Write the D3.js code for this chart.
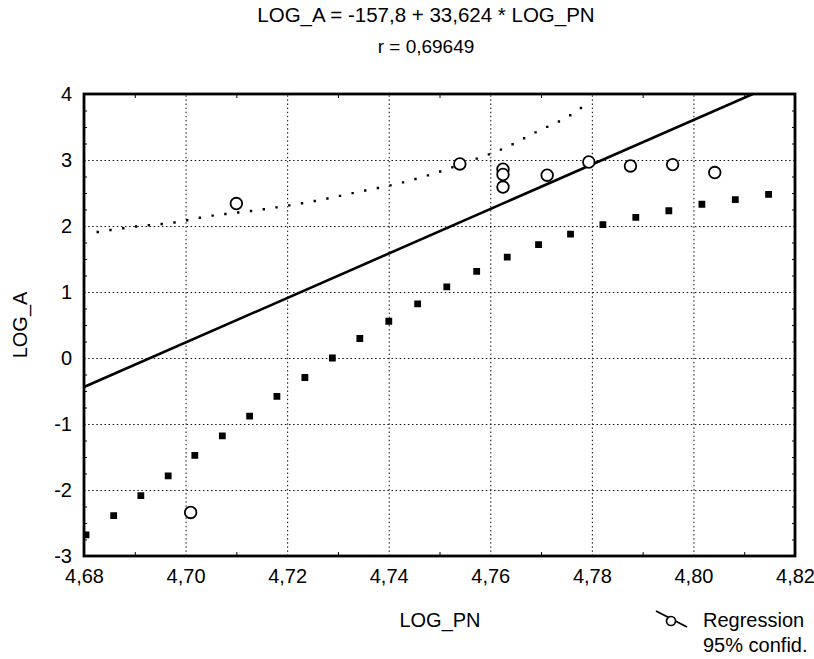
<!DOCTYPE html>
<html>
<head>
<meta charset="utf-8">
<script src="https://cdn.jsdelivr.net/npm/d3@7"></script>
<style>
body { margin: 0; background: #fff; }
text { font-family: "Liberation Sans", Arial, sans-serif; fill: #000; }
</style>
</head>
<body>
<div id="chart"></div>
<script>
// chart data

var xTicks = [4.68, 4.70, 4.72, 4.74, 4.76, 4.78, 4.80, 4.82];
var yTicks = [-3, -2, -1, 0, 1, 2, 3, 4];

// observations
var pointX = [4.701, 4.710, 4.754, 4.7625, 4.7625, 4.7625, 4.7712, 4.7794, 4.7876, 4.7959, 4.8042];
var pointY = [-2.34, 2.34, 2.94, 2.86, 2.78, 2.59, 2.77, 2.97, 2.91, 2.93, 2.81];

// fitted line (LOG_A = -157,8 + 33,624 * LOG_PN), ends
var regX = [4.68, 4.8117];
var regY = [-0.44, 4.0];

// upper 95% band
var upperX = [4.6827, 4.6901, 4.6975, 4.7047, 4.7121, 4.7194, 4.7269, 4.7342, 4.7417, 4.7487, 4.7558, 4.7625, 4.7692, 4.7758, 4.7779];
var upperY = [1.91, 1.99, 2.05, 2.15, 2.22, 2.30, 2.40, 2.52, 2.64, 2.79, 2.98, 3.17, 3.43, 3.68, 3.79];

// lower 95% band
var lowerX = [4.6804, 4.6860, 4.6913, 4.6967, 4.7019, 4.7074, 4.7128, 4.7180, 4.7236, 4.7290, 4.7344, 4.7402, 4.7459, 4.7515, 4.7575, 4.7634, 4.7696, 4.7759, 4.7822, 4.7887, 4.7951, 4.8017, 4.8083, 4.8148];
var lowerY = [-2.68, -2.38, -2.08, -1.78, -1.47, -1.17, -0.87, -0.58, -0.29, 0.005, 0.30, 0.565, 0.83, 1.08, 1.32, 1.53, 1.72, 1.88, 2.02, 2.13, 2.23, 2.33, 2.40, 2.48];

var titleLines = ["LOG_A = -157,8 + 33,624 * LOG_PN", "r = 0,69649"];
var legendLines = ["Regression", "95% confid."];

// set up SVG
var svgWidth = 814;
var svgHeight = 659;
var margin = { top: 94, right: 19, bottom: 103, left: 84 };
var width = svgWidth - margin.left - margin.right;
var height = svgHeight - margin.top - margin.bottom;

var fmt = function (d) { return d3.format(".2f")(d).replace(".", ","); };

var svg = d3.select("#chart")
    .append("svg")
    .attr("width", svgWidth)
    .attr("height", svgHeight);

var chartGroup = svg.append("g")
    .attr("transform", `translate(${margin.left}, ${margin.top})`);

var xScale = d3.scaleLinear().domain([4.68, 4.82]).range([0, width]);
var yScale = d3.scaleLinear().domain([-3, 4]).range([height, 0]);

// dotted grid
chartGroup.append("g")
    .attr("class", "grid")
    .attr("transform", `translate(0, ${height})`)
    .call(d3.axisBottom(xScale).tickValues(xTicks).tickSize(-height).tickFormat(""));
chartGroup.append("g")
    .attr("class", "grid")
    .call(d3.axisLeft(yScale).tickValues(yTicks).tickSize(-width).tickFormat(""));
chartGroup.selectAll(".grid .domain").remove();
chartGroup.selectAll(".grid line")
    .attr("stroke", "#111")
    .attr("stroke-width", 1)
    .attr("stroke-dasharray", "1.5,2.6");

// small inner ticks
var xMinor = d3.range(4.69, 4.82, 0.02);
var yMinor = d3.range(-2.75, 4, 0.25).filter(function (v) { return Math.abs(v - Math.round(v)) > 0.01; });
chartGroup.append("g").call(d3.axisBottom(xScale).tickValues(xMinor).tickSize(-4).tickFormat(""))
    .attr("transform", `translate(0, ${height})`);
chartGroup.append("g").call(d3.axisTop(xScale).tickValues(xMinor).tickSize(-4).tickFormat(""));
chartGroup.append("g").call(d3.axisLeft(yScale).tickValues(yMinor).tickSize(-3).tickFormat(""));
chartGroup.append("g").call(d3.axisRight(yScale).tickValues(yMinor).tickSize(-3).tickFormat(""))
    .attr("transform", `translate(${width}, 0)`);

// tick labels
var xAxis = chartGroup.append("g")
    .attr("transform", `translate(0, ${height})`)
    .call(d3.axisBottom(xScale).tickValues(xTicks).tickSize(0).tickPadding(13).tickFormat(fmt));
var yAxis = chartGroup.append("g")
    .call(d3.axisLeft(yScale).tickValues(yTicks).tickSize(0).tickPadding(12).tickFormat(d => String(d)));
xAxis.select(".domain").remove();
yAxis.select(".domain").remove();
chartGroup.selectAll("g text")
    .attr("font-size", "20px")
    .attr("font-family", "Liberation Sans, Arial, sans-serif")
    .attr("fill", "#000");

// clip to plot
svg.append("defs").append("clipPath").attr("id", "plotclip")
    .append("rect").attr("width", width).attr("height", height);
var plot = chartGroup.append("g").attr("clip-path", "url(#plotclip)");

var line = d3.line()
    .x(d => xScale(d[0]))
    .y(d => yScale(d[1]))
    .curve(d3.curveMonotoneX);

// upper band - fine dots
plot.append("path")
    .datum(d3.zip(upperX, upperY))
    .attr("d", line)
    .attr("fill", "none")
    .attr("stroke", "#000")
    .attr("stroke-width", 2.4)
    .attr("stroke-linecap", "square")
    .attr("stroke-dasharray", "0,12.9");

// lower band - heavy squares
plot.append("path")
    .datum(d3.zip(lowerX, lowerY))
    .attr("d", line)
    .attr("fill", "none")
    .attr("stroke", "#000")
    .attr("stroke-width", 6.8)
    .attr("stroke-linecap", "square")
    .attr("stroke-dasharray", "0,33.7");

// regression line
plot.append("path")
    .datum(d3.zip(regX, regY))
    .attr("d", d3.line().x(d => xScale(d[0])).y(d => yScale(d[1])))
    .attr("fill", "none")
    .attr("stroke", "#000")
    .attr("stroke-width", 2.6);

// observations
plot.selectAll("circle.obs")
    .data(d3.zip(pointX, pointY))
    .enter()
    .append("circle")
    .attr("class", "obs")
    .attr("cx", d => xScale(d[0]))
    .attr("cy", d => yScale(d[1]))
    .attr("r", 5.8)
    .attr("fill", "#fff")
    .attr("stroke", "#000")
    .attr("stroke-width", 1.8);

// frame
chartGroup.append("rect")
    .attr("width", width)
    .attr("height", height)
    .attr("fill", "none")
    .attr("stroke", "#000")
    .attr("stroke-width", 2.8);

// titles
svg.selectAll("text.title")
    .data(titleLines)
    .enter()
    .append("text")
    .attr("class", "title")
    .attr("x", 426)
    .attr("y", (d, i) => 22 + i * 31)
    .attr("text-anchor", "middle")
    .attr("font-size", (d, i) => i == 0 ? "20.5px" : "19px")
    .text(d => d);

chartGroup.append("text")
    .attr("transform", "rotate(-90)")
    .attr("x", 0 - 231)
    .attr("y", -57)
    .attr("text-anchor", "middle")
    .attr("font-size", "20px")
    .text("LOG_A");

chartGroup.append("text")
    .attr("x", 356)
    .attr("y", 533)
    .attr("text-anchor", "middle")
    .attr("font-size", "20px")
    .text("LOG_PN");

// legend
var legend = svg.append("g").attr("transform", "translate(656, 610)");
legend.append("line")
    .attr("x1", 0).attr("y1", 1)
    .attr("x2", 31).attr("y2", 17)
    .attr("stroke", "#000").attr("stroke-width", 1.8);
legend.append("circle")
    .attr("cx", 15).attr("cy", 11).attr("r", 4.5)
    .attr("fill", "#fff").attr("stroke", "#000").attr("stroke-width", 1.7);
legend.selectAll("text")
    .data(legendLines)
    .enter()
    .append("text")
    .attr("x", 47)
    .attr("y", (d, i) => 17 + i * 25)
    .attr("font-size", "20px")
    .text(d => d);
</script>
</body>
</html>
